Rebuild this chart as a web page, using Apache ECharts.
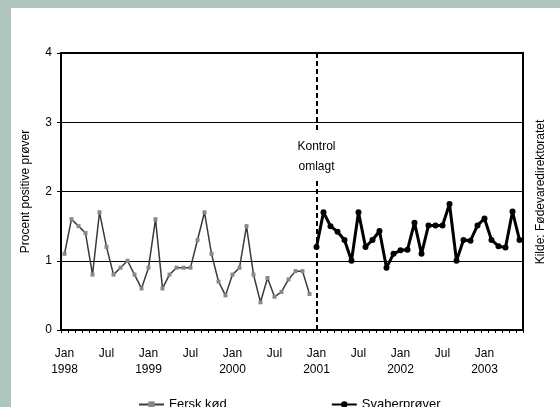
<!DOCTYPE html>
<html>
<head>
<meta charset="utf-8">
<script src="https://cdn.jsdelivr.net/npm/echarts@6/dist/echarts.min.js"></script>
<style>
html,body{margin:0;padding:0;background:#fff;}
#chart{width:560px;height:407px;}
</style>
</head>
<body>
<div id="chart"></div>
<script>
// Data
const monthNames = ['Jan','Feb','Mar','Apr','Maj','Jun','Jul','Aug','Sep','Okt','Nov','Dec'];
const years = [1998, 1999, 2000, 2001, 2002, 2003];
const lastYearMonths = 6;
const ferskKod = [1.1,1.6,1.5,1.4,0.8,1.7,1.2,0.8,0.9,1.0,0.8,0.6,
                  0.9,1.6,0.6,0.8,0.9,0.9,0.9,1.3,1.7,1.1,0.7,0.5,
                  0.8,0.9,1.5,0.8,0.4,0.75,0.48,0.55,0.73,0.85,0.85,0.52];
const svaberprover = [1.2,1.7,1.5,1.42,1.3,1.0,1.7,1.2,1.3,1.43,0.9,1.1,
                      1.15,1.16,1.55,1.1,1.51,1.51,1.51,1.82,1.0,1.3,1.29,1.51,
                      1.61,1.3,1.21,1.19,1.71,1.3];
const yTicks = [0,1,2,3,4];
const seriesNames = ['Fersk kød','Svaberprøver'];
const annotation = 'Kontrol\nomlagt';
const sourceText = 'Kilde: Fødevaredirektoratet';
const yTitle = 'Procent positive prøver';

const categories = [];
years.forEach((y, yi) => {
  const n = (yi === years.length - 1) ? lastYearMonths : 12;
  for (let m = 0; m < n; m++) categories.push(monthNames[m] + ' ' + y);
});
const changeCat = 'Jan 2001';
const changeIdx = categories.indexOf(changeCat);

const font = 'Liberation Sans, Arial, sans-serif';
const chart = echarts.init(document.getElementById('chart'), null, {renderer:'canvas'});
chart.setOption({
  backgroundColor: '#fff',
  animation: false,
  textStyle: {fontFamily: font, color: '#000'},
  graphic: [
    {type:'rect', left:0, top:0, shape:{width:560, height:8}, style:{fill:'#AFC4BB'}, z:-10},
    {type:'rect', left:0, top:0, shape:{width:11, height:407}, style:{fill:'#AFC4BB'}, z:-10},
    {type:'text', x:541, y:192, rotation: Math.PI/2,
     style:{text: sourceText, fill:'#000', font:'12px ' + font, textAlign:'center', textVerticalAlign:'middle'}}
  ],
  grid: {left:61, top:53, width:462, height:277, show:true, borderColor:'#000', borderWidth:2, backgroundColor:'transparent'},
  legend: {
    bottom: -9, left: 133, itemWidth: 25, itemHeight: 8, itemGap: 104,
    textStyle: {fontFamily: font, fontSize: 13, color:'#000'},
    data: seriesNames
  },
  xAxis: {
    type: 'category', data: categories, boundaryGap: true,
    axisLine: {lineStyle:{color:'#000', width:2}},
    axisTick: {show:true, interval:0, length:3, lineStyle:{color:'#000', width:1}},
    axisLabel: {
      interval: (i) => i % 6 === 0,
      margin: 16, lineHeight: 16, fontSize: 12, color:'#000', fontFamily: font,
      formatter: (v) => { const p = v.split(' '); return p[0] === 'Jan' ? p[0] + '\n' + p[1] : p[0]; }
    },
    splitLine: {show:false}
  },
  yAxis: {
    type: 'value', min: yTicks[0], max: yTicks[yTicks.length-1], interval: 1,
    name: yTitle, nameLocation: 'middle', nameRotate: 90, nameGap: 29,
    nameTextStyle: {fontFamily: font, fontSize: 12, color:'#000'},
    axisLine: {show:true, lineStyle:{color:'#000', width:2}},
    axisTick: {show:true, length:4, lineStyle:{color:'#000'}},
    axisLabel: {margin: 9, fontSize: 12, color:'#000', fontFamily: font},
    splitLine: {show:true, lineStyle:{color:'#000', width:1.2}}
  },
  series: [
    {
      name: seriesNames[0], type: 'line',
      data: ferskKod.map((v, i) => [categories[i], v]),
      lineStyle: {color:'#3a3a3a', width:1.5},
      itemStyle: {color:'#888'},
      symbol: 'rect', symbolSize: 4, showSymbol: true, showAllSymbol: true,
      z: 3
    },
    {
      name: seriesNames[1], type: 'line',
      data: svaberprover.map((v, i) => [categories[changeIdx + i], v]),
      lineStyle: {color:'#000', width:3},
      itemStyle: {color:'#000'},
      symbol: 'circle', symbolSize: 6, showSymbol: true, showAllSymbol: true,
      z: 4,
      markLine: {
        silent: true, symbol: ['none','none'],
        lineStyle: {color:'#000', width:2, type:[5,3]},
        label: {show:false},
        data: [{xAxis: changeCat}]
      },
      markPoint: {
        silent: true, symbol: 'rect', symbolSize: [46, 48],
        itemStyle: {color:'#fff'},
        label: {show:true, position:'inside', formatter: annotation, color:'#000', fontSize:12, lineHeight:20, fontFamily: font},
        data: [{coord: [changeCat, 2.5]}]
      }
    }
  ]
});
</script>
</body>
</html>
